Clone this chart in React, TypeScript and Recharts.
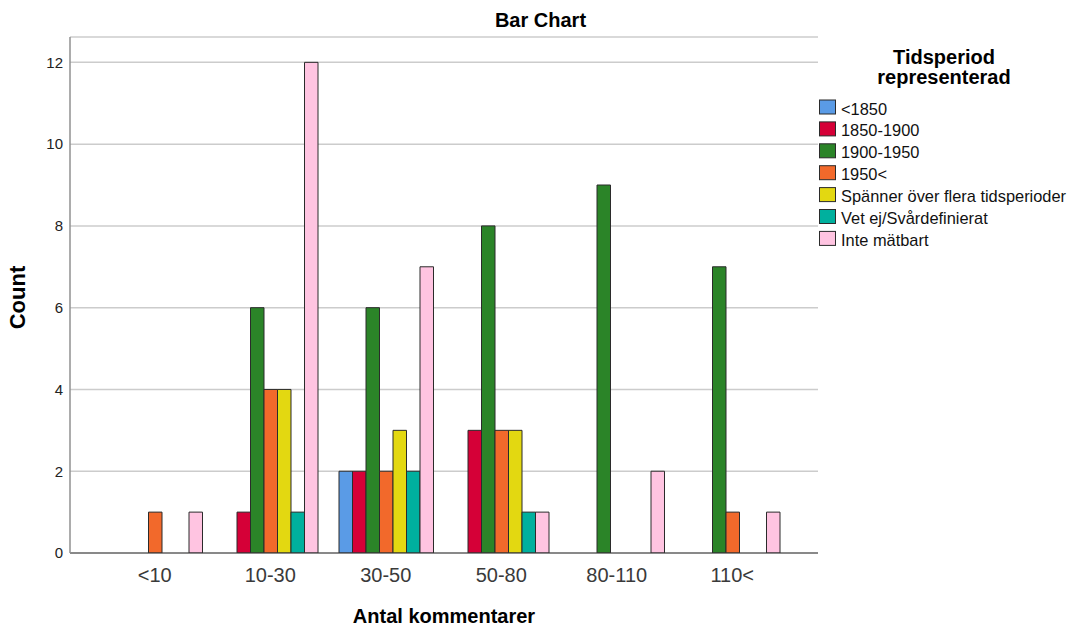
import React from 'react';
import { BarChart, Bar, XAxis, YAxis, CartesianGrid, Legend } from 'recharts';

const categories = ['<10', '10-30', '30-50', '50-80', '80-110', '110<'];
const seriesNames = [
  '<1850',
  '1850-1900',
  '1900-1950',
  '1950<',
  'Spänner över flera tidsperioder',
  'Vet ej/Svårdefinierat',
  'Inte mätbart',
];
const seriesColors = ['#5A9BE6', '#D50037', '#2B8428', '#F2692B', '#E3D811', '#00B09E', '#FFC4E1'];

const before1850 = [null, null, 2, null, null, null];
const s1850to1900 = [null, 1, 2, 3, null, null];
const s1900to1950 = [null, 6, 6, 8, 9, 7];
const after1950 = [1, 4, 2, 3, null, 1];
const spanner = [null, 4, 3, 3, null, null];
const vetEj = [null, 1, 2, 1, null, null];
const inteMatbart = [1, 12, 7, 1, 2, 1];

const yTicks = [0, 2, 4, 6, 8, 10, 12];

const seriesValues = [before1850, s1850to1900, s1900to1950, after1950, spanner, vetEj, inteMatbart];
const keys = seriesValues.map((_, i) => `s${i}`);

const data = categories.map((c, ci) => {
  const row: Record<string, any> = { category: c };
  seriesValues.forEach((vals, si) => {
    row[keys[si]] = vals[ci];
  });
  return row;
});

const FONT = '"Liberation Sans", Arial, sans-serif';

const renderLegend = () => (
  <svg width={259} height={230} style={{ display: 'block' }}>
    <text x={125} y={24} textAnchor="middle" fontFamily={FONT} fontWeight="bold" fontSize={20} fill="#000">
      Tidsperiod
    </text>
    <text x={125} y={44} textAnchor="middle" fontFamily={FONT} fontWeight="bold" fontSize={20} fill="#000">
      representerad
    </text>
    {seriesNames.map((name, i) => (
      <g key={name}>
        <rect
          x={0.5}
          y={60 + i * 21.9}
          width={16}
          height={14}
          fill={seriesColors[i]}
          stroke="#2b2b2b"
          strokeWidth={1}
        />
        <text x={22} y={74.5 + i * 21.9} fontFamily={FONT} fontSize={16.4} fill="#111">
          {name}
        </text>
      </g>
    ))}
  </svg>
);

export default function App() {
  return (
    <div style={{ position: 'absolute', left: 0, top: 0, width: 1079, height: 628, background: '#fff' }}>
      <BarChart
        width={1079}
        height={628}
        data={data}
        margin={{ top: 37, right: 261, bottom: 0, left: 0 }}
        barGap={0}
        barSize={13.5}
      >
        <CartesianGrid vertical={false} stroke="#cccccc" strokeWidth={1.5} />
        <XAxis
          dataKey="category"
          height={75}
          padding={{ left: 27, right: 28 }}
          tickLine={false}
          tickSize={13}
          tickMargin={2}
          axisLine={{ stroke: '#3a3a3a', strokeWidth: 1.2 }}
          tick={{ fontSize: 20, fill: '#3a3a3a', fontFamily: FONT }}
          label={{
            value: 'Antal kommentarer',
            position: 'insideBottom',
            offset: 5,
            style: { fontSize: 20, fontWeight: 'bold', fill: '#000', fontFamily: FONT },
          }}
        />
        <YAxis
          width={70}
          domain={[0, 12.62]}
          ticks={yTicks}
          tickLine={false}
          tickSize={5}
          tickMargin={2}
          axisLine={{ stroke: '#909090', strokeWidth: 1.5 }}
          tick={{ fontSize: 15, fill: '#222', fontFamily: FONT }}
          allowDataOverflow
        />
        <Legend
          layout="vertical"
          align="center"
          verticalAlign="middle"
          content={renderLegend}
          wrapperStyle={{ position: 'absolute', left: 819, top: 40, width: 259, height: 230 }}
        />
        {keys.map((k, i) => (
          <Bar
            key={k}
            dataKey={k}
            name={seriesNames[i]}
            fill={seriesColors[i]}
            stroke="#2b2b2b"
            strokeWidth={1}
            isAnimationActive={false}
          />
        ))}
      </BarChart>
      <svg
        width={1079}
        height={628}
        style={{ position: 'absolute', left: 0, top: 0, pointerEvents: 'none' }}
      >
        <text x={540.5} y={26.5} textAnchor="middle" fontFamily={FONT} fontWeight="bold" fontSize={20} fill="#000">
          Bar Chart
        </text>
        <text
          x={25}
          y={297.5}
          transform="rotate(-90 25 297.5)"
          textAnchor="middle"
          fontFamily={FONT}
          fontWeight="bold"
          fontSize={22}
          fill="#000"
        >
          Count
        </text>
      </svg>
    </div>
  );
}
